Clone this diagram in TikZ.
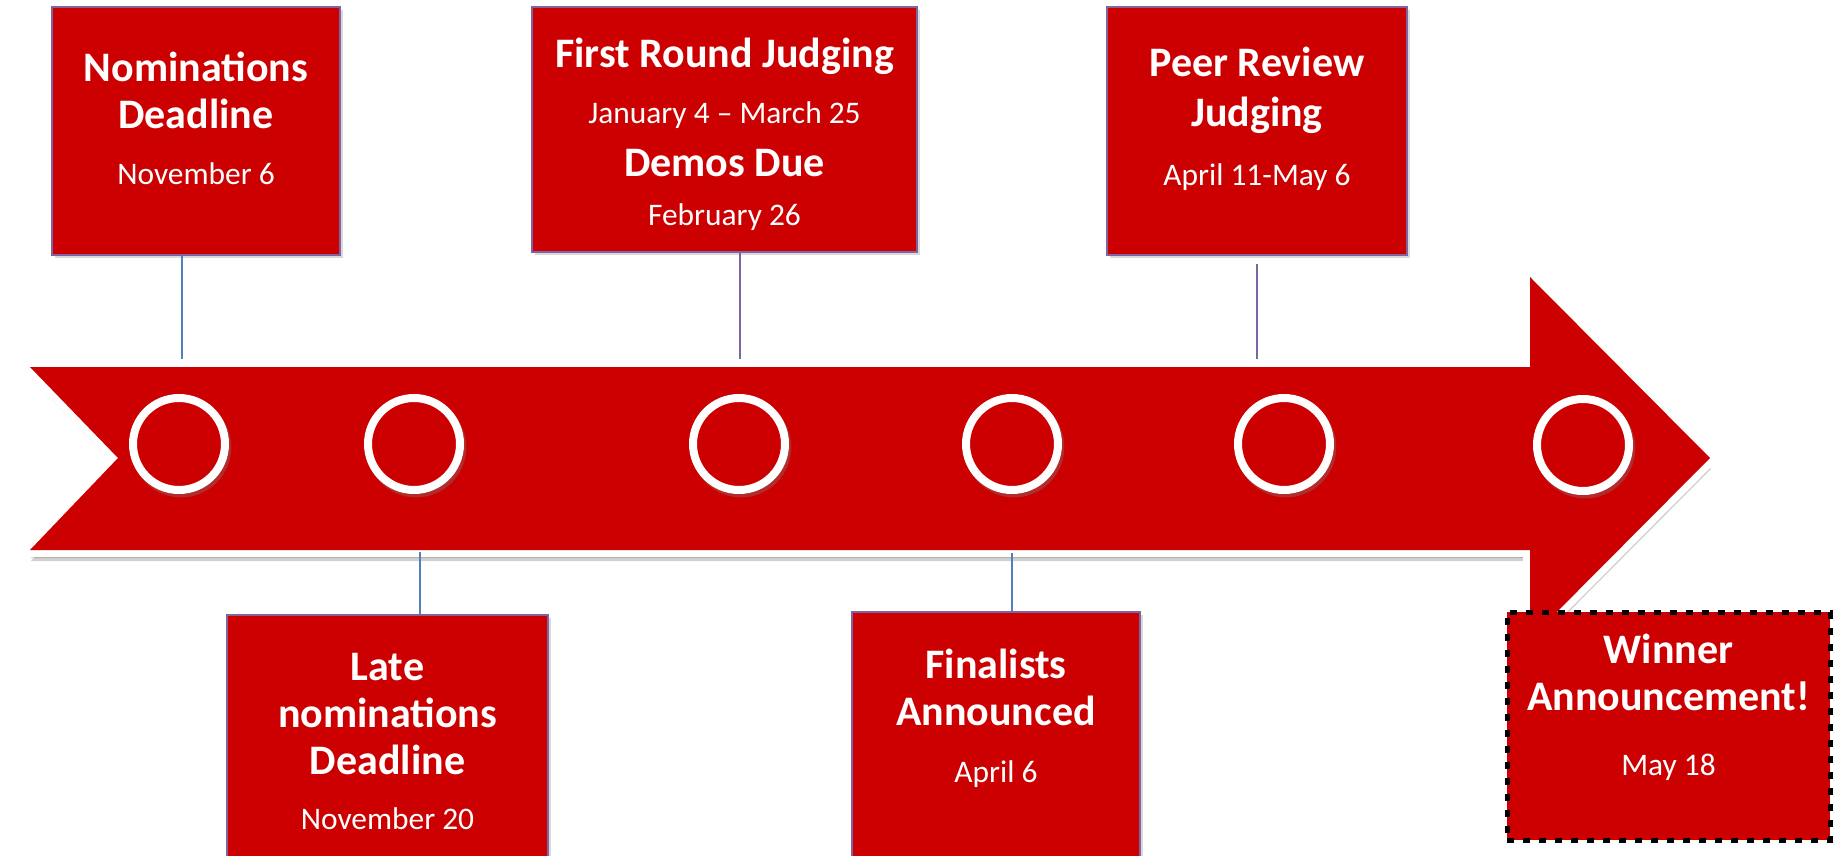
\documentclass[tikz,border=0pt]{standalone}
\usepackage{fontspec}
\setmainfont{Carlito}
\usepackage{tikz}
\usetikzlibrary{
    positioning,
    shadows
}
\definecolor{tlred}{HTML}{CC0000}
\definecolor{tlpurple}{HTML}{8064A2}
\definecolor{tlblue}{HTML}{4F81BD}
\newcommand{\evdate}{\fontsize{15.7}{19}\selectfont\mdseries}
\tikzset{
    evbox/.style={
        rectangle,
        fill=tlred,
        draw=tlpurple,
        line width=1pt,
        inner sep=0pt,
        drop shadow={shadow xshift=1.5pt, shadow yshift=-1.5pt, opacity=0.3}
    },
    winbox/.style={
        rectangle,
        fill=tlred,
        draw=black,
        line width=2.5pt,
        dash pattern=on 3.5pt off 4.5pt,
        inner sep=0pt
    },
    evtext/.style={
        text=white,
        align=center,
        inner sep=0pt,
        font=\fontsize{21}{23.5}\selectfont\bfseries
    },
    ring/.style={
        circle,
        draw=white,
        line width=4pt,
        fill=tlred,
        minimum size=46pt,
        inner sep=0pt,
        drop shadow={shadow scale=1.09, shadow xshift=1pt, shadow yshift=-1.5pt, opacity=0.35}
    },
    bluelink/.style={
        draw=tlblue,
        line width=1pt
    },
    purplelink/.style={
        draw=tlpurple,
        line width=1pt
    }
}

\begin{document}
\begin{tikzpicture}[x=0.5pt, y=-0.5pt]
\clip (0,0) rectangle (1833,856);

% the timeline arrow
\path[fill=tlred,
    preaction={fill=black, opacity=0.18, transform canvas={xshift=0.5pt, yshift=-5.5pt}},
    preaction={fill=black, opacity=0.2, transform canvas={xshift=0.5pt, yshift=-4pt}},
    preaction={draw=white, line width=7pt}]
    (30,367) -- (1530,367) -- (1530,277) -- (1710,458) -- (1530,639)
    -- (1530,550) -- (30,550) -- (118,458) -- cycle;

% dates on the line
\node[ring] (r1) at (179,444) {};
\node[ring] (r2) at (414,444) {};
\node[ring] (r3) at (739,444) {};
\node[ring] (r4) at (1012,444) {};
\node[ring] (r5) at (1284,444) {};
\node[ring] (r6) at (1583,445) {};

% boxes above
\node[evbox, minimum width=144pt, minimum height=124pt] (nom) at (196,131) {};
\node[evbox, minimum width=192.5pt, minimum height=122.5pt] (first) at (724.5,129.5) {};
\node[evbox, minimum width=150pt, minimum height=124pt] (peer) at (1257,131) {};

% boxes below
\node[evbox, minimum width=160.5pt, minimum height=142.5pt] (late) at (387.5,757.5) {};
\node[evbox, minimum width=144pt, minimum height=144pt] (final) at (996,756) {};
\node[winbox, minimum width=161.5pt, minimum height=114pt] (win) at (1668.5,726) {};

\node[evtext, below=23pt of nom.north] (nomtxt)
    {Nominations\\Deadline\\[4.5pt]\evdate November 6};
\node[evtext, below=16pt of first.north] (firsttxt)
    {First Round Judging\\[4.5pt]\evdate January 4 -- March 25\\[3pt]Demos Due\\[1pt]\evdate February 26};
\node[evtext, below=20.5pt of peer.north] (peertxt)
    {Peer Review\\[1.5pt]Judging\\[6pt]\evdate April 11-May 6};
\node[evtext, below=19.5pt of late.north] (latetxt)
    {Late\\nominations\\Deadline\\[4pt]\evdate November 20};
\node[evtext, below=19pt of final.north] (finaltxt)
    {Finalists\\Announced\\[5pt]\evdate April 6};
\node[evtext, below=12pt of win.north] (wintxt)
    {Winner\\Announcement!\\[9pt]\evdate May 18};

% connectors
\coordinate (t1) at (182,359);
\coordinate (t2) at (740,359);
\coordinate (t3) at (1257,359);
\coordinate (b1) at (420,552);
\coordinate (b2) at (1012,553);

\draw[bluelink] (t1 |- nom.south) -- (t1);
\draw[purplelink] (t2 |- first.south) -- (t2);
\draw[purplelink, shorten <=4pt] (t3 |- peer.south) -- (t3);
\draw[bluelink] (b1) -- (b1 |- late.north);
\draw[bluelink] (b2) -- (b2 |- final.north);
\end{tikzpicture}
\end{document}
